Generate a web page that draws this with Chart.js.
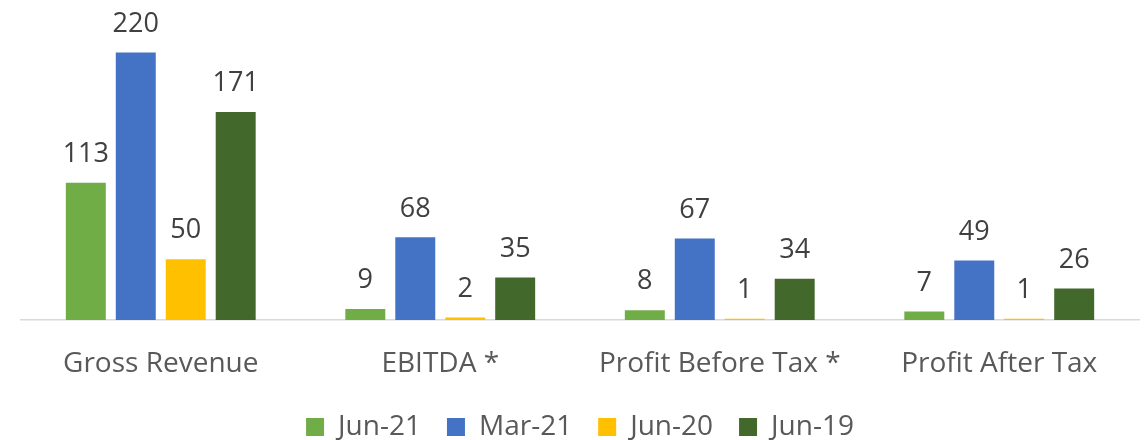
<!DOCTYPE html>
<html>
<head>
<meta charset="utf-8">
<script src="https://cdn.jsdelivr.net/npm/chart.js@4.4.0/dist/chart.umd.min.js"></script>
<style>
  html, body { margin: 0; padding: 0; background: #ffffff; }
  #wrap { width: 1145px; height: 440px; position: relative; }
</style>
</head>
<body>
<div id="wrap"><canvas id="c" width="1145" height="440"></canvas></div>
<script>
const categories = ["Gross Revenue", "EBITDA *", "Profit Before Tax *", "Profit After Tax"];
const seriesNames = ["Jun-21", "Mar-21", "Jun-20", "Jun-19"];
const jun21 = [113, 9, 8, 7];
const mar21 = [220, 68, 67, 49];
const jun20 = [50, 2, 1, 1];
const jun19 = [171, 35, 34, 26];
const colors = ["#70AD47", "#4472C4", "#FFC000", "#43682B"];

const FONT = "'Open Sans', sans-serif";
const TEXT = "#595959";
const LEGEND_HEIGHT = 53;
const XAXIS_HEIGHT = 67;

const labelPlugin = {
  id: 'barLabels',
  afterDatasetsDraw(chart) {
    const ctx = chart.ctx;
    ctx.save();
    ctx.font = "27px " + FONT;
    ctx.fillStyle = "#404040";
    ctx.textAlign = "center";
    ctx.textBaseline = "bottom";
    chart.data.datasets.forEach((ds, i) => {
      const meta = chart.getDatasetMeta(i);
      meta.data.forEach((bar, j) => {
        ctx.fillText(String(ds.data[j]), bar.x, bar.y - 15);
      });
    });
    ctx.restore();
  }
};

const legendHeightPlugin = {
  id: 'legendHeight',
  beforeLayout(chart) {
    const lg = chart.legend;
    if (lg && !lg._fixedHeight) {
      const orig = lg.fit.bind(lg);
      lg.fit = function () { orig(); this.height = LEGEND_HEIGHT; };
      lg._fixedHeight = true;
    }
  }
};

new Chart(document.getElementById('c'), {
  type: 'bar',
  data: {
    labels: categories,
    datasets: [
      { label: seriesNames[0], data: jun21, backgroundColor: colors[0] },
      { label: seriesNames[1], data: mar21, backgroundColor: colors[1] },
      { label: seriesNames[2], data: jun20, backgroundColor: colors[2] },
      { label: seriesNames[3], data: jun19, backgroundColor: colors[3] }
    ]
  },
  options: {
    responsive: false,
    animation: false,
    layout: { padding: { left: 21, right: 6, top: 10, bottom: 0 } },
    datasets: { bar: { categoryPercentage: 0.715, barPercentage: 0.8 } },
    scales: {
      x: {
        grid: { display: false },
        border: { display: true, color: "#D9D9D9", width: 1.5 },
        ticks: { color: TEXT, font: { family: FONT, size: 28 }, padding: 19 },
        afterFit(scale) { scale.height = XAXIS_HEIGHT; }
      },
      y: { display: false, min: 0, max: 255 }
    },
    plugins: {
      legend: {
        position: 'bottom',
        labels: {
          color: TEXT,
          font: { family: FONT, size: 28 },
          boxWidth: 18, boxHeight: 18, padding: 26
        }
      },
      tooltip: { enabled: false }
    }
  },
  plugins: [labelPlugin, legendHeightPlugin]
});
</script>
</body>
</html>
